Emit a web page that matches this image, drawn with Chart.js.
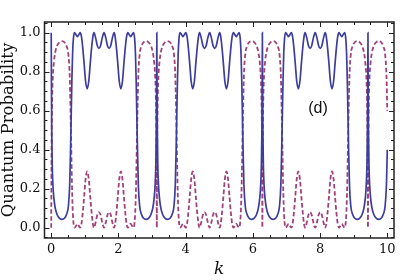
<!DOCTYPE html>
<html>
<head>
<meta charset="utf-8">
<script src="https://cdn.jsdelivr.net/npm/chart.js@4.4.1/dist/chart.umd.min.js"></script>
<style>
  html,body{margin:0;padding:0;background:#fff;}
  canvas{display:block;}
</style>
</head>
<body>
<canvas id="probChart" width="415" height="280"></canvas>
<script>
// k samples (dense near the sharp walls and spikes)
const kValues = [
  // 0 .. pi
  0, 0.006, 0.015, 0.03, 0.05, 0.08, 0.12, 0.18, 0.25, 0.32, 0.40, 0.46, 0.51, 0.55, 0.575, 0.595, 0.615, 0.635, 0.66, 0.69,
  0.74, 0.78, 0.82, 0.86, 0.90, 0.94, 0.98, 1.02, 1.07, 1.12, 1.16, 1.20, 1.24, 1.27, 1.32, 1.37, 1.42, 1.47, 1.52, 1.571,
  1.622, 1.672, 1.722, 1.772, 1.822, 1.872, 1.902, 1.942, 1.982, 2.022, 2.072, 2.122, 2.162, 2.202, 2.242, 2.282,
  2.322, 2.362, 2.402, 2.452, 2.482, 2.507, 2.527, 2.547, 2.567, 2.592, 2.632, 2.682, 2.742, 2.822, 2.892, 2.962,
  3.022, 3.062, 3.092, 3.112, 3.127, 3.136,
  // pi .. 2pi
  3.142, 3.148, 3.157, 3.172, 3.192, 3.222, 3.262, 3.322, 3.392, 3.462, 3.542, 3.602, 3.652, 3.692, 3.717, 3.737, 3.757, 3.777, 3.802, 3.832,
  3.882, 3.922, 3.962, 4.002, 4.042, 4.082, 4.122, 4.162, 4.212, 4.262, 4.302, 4.342, 4.382, 4.412, 4.462, 4.512, 4.562, 4.612, 4.662, 4.713,
  4.764, 4.814, 4.864, 4.914, 4.964, 5.014, 5.044, 5.084, 5.124, 5.164, 5.214, 5.264, 5.304, 5.344, 5.384, 5.424,
  5.464, 5.504, 5.544, 5.594, 5.624, 5.649, 5.669, 5.689, 5.709, 5.734, 5.774, 5.824, 5.884, 5.964, 6.034, 6.104,
  6.164, 6.204, 6.234, 6.254, 6.269, 6.278,
  // 2pi .. 3pi
  6.283, 6.289, 6.298, 6.313, 6.333, 6.363, 6.403, 6.463, 6.533, 6.603, 6.683, 6.743, 6.793, 6.833, 6.858, 6.878, 6.898, 6.918, 6.943, 6.973,
  7.023, 7.063, 7.103, 7.143, 7.183, 7.223, 7.263, 7.303, 7.353, 7.403, 7.443, 7.483, 7.523, 7.553, 7.603, 7.653, 7.703, 7.753, 7.803, 7.854,
  7.905, 7.955, 8.005, 8.055, 8.105, 8.155, 8.185, 8.225, 8.265, 8.305, 8.355, 8.405, 8.445, 8.485, 8.525, 8.565,
  8.605, 8.645, 8.685, 8.735, 8.765, 8.790, 8.810, 8.830, 8.850, 8.875, 8.915, 8.965, 9.025, 9.105, 9.175, 9.245,
  9.305, 9.345, 9.375, 9.395, 9.410, 9.419,
  // 3pi .. 10
  9.425, 9.431, 9.440, 9.455, 9.475, 9.505, 9.545, 9.605, 9.675, 9.745, 9.825, 9.885, 9.935, 9.975, 10.0
];

// solid blue curve
const blueProb = [
  1.0, 0.75, 0.5, 0.32, 0.22, 0.15, 0.10, 0.065, 0.048, 0.043, 0.05, 0.07, 0.11, 0.22, 0.40, 0.58, 0.76, 0.89, 0.97, 1.0,
  0.99, 0.98, 0.99, 1.0, 0.98, 0.92, 0.84, 0.755, 0.712, 0.755, 0.84, 0.92, 0.98, 1.0, 0.975, 0.935, 0.92, 0.935, 0.975, 1.0,
  0.975, 0.935, 0.92, 0.935, 0.975, 1.0, 0.98, 0.92, 0.84, 0.755, 0.712, 0.755, 0.84, 0.92, 0.98, 1.0,
  0.99, 0.98, 0.99, 1.0, 0.97, 0.89, 0.76, 0.58, 0.40, 0.22, 0.11, 0.07, 0.05, 0.043, 0.048, 0.065,
  0.10, 0.15, 0.22, 0.32, 0.5, 0.75,

  1.0, 0.75, 0.5, 0.32, 0.22, 0.15, 0.10, 0.065, 0.048, 0.043, 0.05, 0.07, 0.11, 0.22, 0.40, 0.58, 0.76, 0.89, 0.97, 1.0,
  0.99, 0.98, 0.99, 1.0, 0.98, 0.92, 0.84, 0.755, 0.712, 0.755, 0.84, 0.92, 0.98, 1.0, 0.975, 0.935, 0.92, 0.935, 0.975, 1.0,
  0.975, 0.935, 0.92, 0.935, 0.975, 1.0, 0.98, 0.92, 0.84, 0.755, 0.712, 0.755, 0.84, 0.92, 0.98, 1.0,
  0.99, 0.98, 0.99, 1.0, 0.97, 0.89, 0.76, 0.58, 0.40, 0.22, 0.11, 0.07, 0.05, 0.043, 0.048, 0.065,
  0.10, 0.15, 0.22, 0.32, 0.5, 0.75,

  1.0, 0.75, 0.5, 0.32, 0.22, 0.15, 0.10, 0.065, 0.048, 0.043, 0.05, 0.07, 0.11, 0.22, 0.40, 0.58, 0.76, 0.89, 0.97, 1.0,
  0.99, 0.98, 0.99, 1.0, 0.98, 0.92, 0.84, 0.755, 0.712, 0.755, 0.84, 0.92, 0.98, 1.0, 0.975, 0.935, 0.92, 0.935, 0.975, 1.0,
  0.975, 0.935, 0.92, 0.935, 0.975, 1.0, 0.98, 0.92, 0.84, 0.755, 0.712, 0.755, 0.84, 0.92, 0.98, 1.0,
  0.99, 0.98, 0.99, 1.0, 0.97, 0.89, 0.76, 0.58, 0.40, 0.22, 0.11, 0.07, 0.05, 0.043, 0.048, 0.065,
  0.10, 0.15, 0.22, 0.32, 0.5, 0.75,

  1.0, 0.75, 0.5, 0.32, 0.22, 0.15, 0.10, 0.065, 0.048, 0.043, 0.05, 0.07, 0.11, 0.22, 0.40
];

// dashed purple curve
const purpleProb = [
  0.0, 0.25, 0.5, 0.68, 0.78, 0.85, 0.90, 0.935, 0.952, 0.957, 0.95, 0.93, 0.89, 0.78, 0.60, 0.42, 0.24, 0.11, 0.03, 0.0,
  0.01, 0.02, 0.01, 0.0, 0.02, 0.08, 0.16, 0.245, 0.288, 0.245, 0.16, 0.08, 0.02, 0.0, 0.025, 0.065, 0.08, 0.065, 0.025, 0.0,
  0.025, 0.065, 0.08, 0.065, 0.025, 0.0, 0.02, 0.08, 0.16, 0.245, 0.288, 0.245, 0.16, 0.08, 0.02, 0.0,
  0.01, 0.02, 0.01, 0.0, 0.03, 0.11, 0.24, 0.42, 0.60, 0.78, 0.89, 0.93, 0.95, 0.957, 0.952, 0.935,
  0.90, 0.85, 0.78, 0.68, 0.5, 0.25,

  0.0, 0.25, 0.5, 0.68, 0.78, 0.85, 0.90, 0.935, 0.952, 0.957, 0.95, 0.93, 0.89, 0.78, 0.60, 0.42, 0.24, 0.11, 0.03, 0.0,
  0.01, 0.02, 0.01, 0.0, 0.02, 0.08, 0.16, 0.245, 0.288, 0.245, 0.16, 0.08, 0.02, 0.0, 0.025, 0.065, 0.08, 0.065, 0.025, 0.0,
  0.025, 0.065, 0.08, 0.065, 0.025, 0.0, 0.02, 0.08, 0.16, 0.245, 0.288, 0.245, 0.16, 0.08, 0.02, 0.0,
  0.01, 0.02, 0.01, 0.0, 0.03, 0.11, 0.24, 0.42, 0.60, 0.78, 0.89, 0.93, 0.95, 0.957, 0.952, 0.935,
  0.90, 0.85, 0.78, 0.68, 0.5, 0.25,

  0.0, 0.25, 0.5, 0.68, 0.78, 0.85, 0.90, 0.935, 0.952, 0.957, 0.95, 0.93, 0.89, 0.78, 0.60, 0.42, 0.24, 0.11, 0.03, 0.0,
  0.01, 0.02, 0.01, 0.0, 0.02, 0.08, 0.16, 0.245, 0.288, 0.245, 0.16, 0.08, 0.02, 0.0, 0.025, 0.065, 0.08, 0.065, 0.025, 0.0,
  0.025, 0.065, 0.08, 0.065, 0.025, 0.0, 0.02, 0.08, 0.16, 0.245, 0.288, 0.245, 0.16, 0.08, 0.02, 0.0,
  0.01, 0.02, 0.01, 0.0, 0.03, 0.11, 0.24, 0.42, 0.60, 0.78, 0.89, 0.93, 0.95, 0.957, 0.952, 0.935,
  0.90, 0.85, 0.78, 0.68, 0.5, 0.25,

  0.0, 0.25, 0.5, 0.68, 0.78, 0.85, 0.90, 0.935, 0.952, 0.957, 0.95, 0.93, 0.89, 0.78, 0.60
];

const xTickLabels = [0, 2, 4, 6, 8, 10];
const yTickLabels = [0, 0.2, 0.4, 0.6, 0.8, 1.0];
const xMinorStep = 0.5;
const yMinorStep = 0.05;

const serif = "'DejaVu Serif', 'Liberation Serif', serif";

// Mathematica-like frame with inward ticks on all four sides + panel label
const framePlugin = {
  id: 'frame',
  afterDatasetsDraw(chart){
    const {ctx, chartArea:a, scales:{x, y}} = chart;
    ctx.save();
    ctx.strokeStyle = '#222';
    ctx.lineWidth = 1;
    ctx.beginPath();
    // x ticks
    for(let v = 0; v <= 10.001; v += xMinorStep){
      const px = Math.round(x.getPixelForValue(v)) + 0.5;
      const major = xTickLabels.some(t => Math.abs(t - v) < 1e-6);
      const len = major ? 5 : 3;
      ctx.moveTo(px, a.bottom); ctx.lineTo(px, a.bottom - len);
      ctx.moveTo(px, a.top); ctx.lineTo(px, a.top + len);
    }
    // y ticks
    for(let v = -0.05; v <= 1.0501; v += yMinorStep){
      const py = Math.round(y.getPixelForValue(v)) + 0.5;
      const major = yTickLabels.some(t => Math.abs(t - v) < 1e-6);
      const len = major ? 5 : 3;
      ctx.moveTo(a.left, py); ctx.lineTo(a.left + len, py);
      ctx.moveTo(a.right, py); ctx.lineTo(a.right - len, py);
    }
    ctx.stroke();
    ctx.lineWidth = 1.5;
    ctx.strokeRect(a.left, a.top, a.right - a.left, a.bottom - a.top);

    ctx.fillStyle = '#111';
    ctx.font = "16px 'Liberation Sans', Arial, sans-serif";
    ctx.textAlign = 'center';
    ctx.textBaseline = 'middle';
    ctx.fillText('(d)', 318, 109);
    ctx.restore();
  }
};

new Chart(document.getElementById('probChart'), {
  type: 'line',
  data: {
    datasets: [
      {
        data: kValues.map((k, i) => ({x: k, y: blueProb[i]})),
        borderColor: '#3d3d9e',
        borderWidth: 1.7,
        pointRadius: 0,
        cubicInterpolationMode: 'monotone',
        fill: false
      },
      {
        data: kValues.map((k, i) => ({x: k, y: purpleProb[i]})),
        borderColor: '#a0427a',
        borderWidth: 1.8,
        borderDash: [4.5, 2.5],
        pointRadius: 0,
        cubicInterpolationMode: 'monotone',
        fill: false
      }
    ]
  },
  options: {
    responsive: false,
    animation: false,
    devicePixelRatio: 1,
    layout: { padding: { top: 22, right: 21, left: 0, bottom: 0 } },
    plugins: { legend: { display: false }, tooltip: { enabled: false } },
    scales: {
      x: {
        type: 'linear',
        min: -0.2, max: 10.2,
        afterBuildTicks: s => { s.ticks = xTickLabels.map(v => ({value: v})); },
        afterFit: s => { s.height = 42; },
        grid: { display: false, drawTicks: false },
        border: { display: false },
        ticks: { padding: 4, color: '#111', font: { family: serif, size: 13 }, maxRotation: 0 },
        title: { display: true, text: 'k', color: '#111', padding: { top: 0, bottom: 1 },
                 font: { family: serif, size: 17, style: 'italic', lineHeight: 1.1 } }
      },
      y: {
        min: -0.053, max: 1.055,
        afterBuildTicks: s => { s.ticks = yTickLabels.map(v => ({value: v})); },
        afterFit: s => { s.width = 44.5; },
        grid: { display: false, drawTicks: false },
        border: { display: false },
        ticks: { padding: 4, color: '#111', font: { family: serif, size: 13 },
                 callback: v => v.toFixed(1) },
        title: { display: true, text: 'Quantum Probability', color: '#111', padding: { top: 0, bottom: 0 },
                 font: { family: serif, size: 16.5, lineHeight: 1.0 } }
      }
    }
  },
  plugins: [framePlugin]
});
</script>
</body>
</html>
